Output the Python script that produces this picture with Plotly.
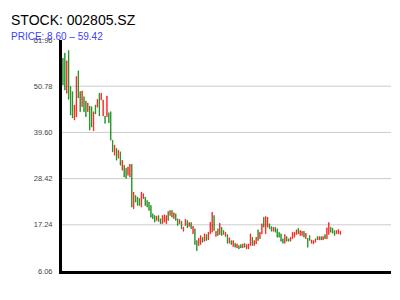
import plotly.graph_objects as go

opens = [57.59, 58.80, 49.08, 59.42, 50.68, 49.47, 42.59, 43.32, 54.50, 49.47,
         45.82, 48.25, 47.21, 44.61, 45.99, 45.82, 39.99, 46.24, 45.68, 49.08,
         47.45, 43.56, 43.56, 43.39, 44.36, 44.61, 37.73, 34.08, 35.78, 33.35,
         34.89, 30.44, 31.65, 30.92, 29.22, 28.81, 31.90, 21.13, 24.36, 23.95,
         23.63, 21.52, 23.56, 23.95, 23.15, 22.73, 21.93, 19.91, 19.50, 18.29,
         19.50, 18.70, 17.48, 17.87, 17.48, 20.47, 19.50, 20.72, 18.70, 19.91,
         18.70, 17.48, 18.11, 15.68, 17.07, 18.29, 16.83, 17.80, 15.05, 16.27,
         13.42, 12.21, 12.45, 14.23, 13.25, 14.88, 13.59, 15.05, 15.44, 19.50,
         14.40, 16.27, 14.88, 16.66, 15.85, 14.40, 14.88, 12.77, 13.42, 11.97,
         12.77, 11.65, 12.21, 12.45, 11.65, 12.77, 11.41, 11.41, 12.21, 14.23,
         12.21, 12.62, 16.02, 13.84, 15.05, 19.09, 15.05, 16.66, 17.48, 16.83,
         15.68, 16.66, 16.27, 15.44, 15.05, 13.84, 12.77, 14.40, 13.84, 13.25,
         13.84, 14.23, 14.88, 16.41, 14.64, 14.64, 15.68, 13.84, 13.98, 14.64,
         12.77, 12.62, 13.01, 14.40, 13.59, 14.40, 13.59, 14.88, 13.84, 14.88,
         16.66, 16.41, 15.85, 15.05, 15.05, 14.88]
closes = [51.10, 49.88, 56.93, 47.62, 43.80, 43.08, 46.24, 53.11, 47.94, 44.61,
          49.64, 44.61, 43.39, 46.72, 40.16, 40.89, 44.61, 44.05, 47.62, 43.56,
          49.08, 47.45, 41.79, 48.42, 41.93, 37.73, 34.89, 36.51, 32.87, 35.30,
          31.65, 32.87, 28.81, 28.49, 31.24, 31.90, 21.52, 25.16, 22.73, 21.93,
          21.93, 25.16, 24.77, 21.93, 21.52, 20.72, 19.09, 18.70, 17.87, 19.33,
          18.04, 17.48, 19.50, 19.67, 19.50, 18.29, 20.72, 19.09, 20.16, 18.29,
          17.07, 18.53, 16.27, 16.66, 18.60, 16.51, 17.80, 16.27, 16.90, 12.45,
          10.99, 13.98, 14.64, 13.01, 15.05, 13.42, 15.44, 17.87, 20.30, 15.85,
          15.68, 14.64, 17.63, 14.64, 14.88, 15.44, 12.77, 14.08, 12.45, 13.42,
          11.80, 12.62, 11.41, 11.65, 12.62, 11.80, 12.45, 12.62, 15.05, 12.21,
          13.42, 14.23, 13.42, 15.44, 17.48, 16.66, 19.26, 19.09, 16.27, 15.68,
          16.66, 15.44, 14.23, 14.23, 13.25, 12.77, 14.88, 13.25, 13.25, 14.23,
          15.44, 15.44, 16.02, 15.05, 15.85, 15.68, 14.23, 15.20, 11.80, 13.42,
          13.59, 13.42, 13.84, 13.59, 14.40, 13.59, 14.40, 13.84, 16.51, 17.80,
          15.44, 15.20, 14.64, 15.85, 16.10, 15.68]
highs = [max(o, c) for o, c in zip(opens, closes)]
lows = [min(o, c) for o, c in zip(opens, closes)]
xs = list(range(len(opens)))

y_ticks = [6.06, 17.24, 28.42, 39.60, 50.78, 61.96]
y_tick_text = ["6.06", "17.24", "28.42", "39.60", "50.78", "61.96"]
title_text = "STOCK: 002805.SZ"
subtitle_text = "PRICE: 8.60 – 59.42"

fig = go.Figure(go.Candlestick(
    x=xs, open=opens, high=highs, low=lows, close=closes,
    increasing=dict(line=dict(color="#ff0000", width=0.5), fillcolor="#ff0000"),
    decreasing=dict(line=dict(color="#008000", width=0.5), fillcolor="#008000"),
    whiskerwidth=0,
    showlegend=False,
    hoverinfo="skip",
))

shapes = []
for v in y_ticks[1:-1]:
    shapes.append(dict(type="line", xref="paper", x0=0, x1=1, yref="y", y0=v, y1=v,
                       line=dict(color="#cccccc", width=1), layer="below"))

fig.update_layout(
    width=400, height=300,
    margin=dict(l=62, r=9, t=40, b=29),
    paper_bgcolor="white", plot_bgcolor="white",
    font=dict(family="Liberation Sans, Arial, sans-serif"),
    shapes=shapes,
    boxgap=0.55,
    xaxis=dict(range=[-0.5, 171.5], showticklabels=False, showgrid=False, zeroline=False,
               showline=True, linecolor="black", linewidth=3, ticks="",
               rangeslider=dict(visible=False), fixedrange=True),
    yaxis=dict(range=[6.06, 61.96], tickvals=y_ticks, ticktext=y_tick_text,
               showgrid=False, zeroline=False, showline=True, linecolor="black",
               linewidth=3, ticks="", ticklabelstandoff=5,
               tickfont=dict(size=7.5, color="#444444"), fixedrange=True),
    annotations=[
        dict(text=title_text, xref="paper", yref="paper", x=(9 - 62) / 329, y=1.0866,
             xanchor="left", yanchor="middle", showarrow=False,
             font=dict(size=14, color="black")),
        dict(text=subtitle_text, xref="paper", yref="paper", x=(9 - 62) / 329, y=1.013,
             xanchor="left", yanchor="middle", showarrow=False,
             font=dict(size=10, color="#4040ff")),
    ],
)

fig.write_html("out.html")
